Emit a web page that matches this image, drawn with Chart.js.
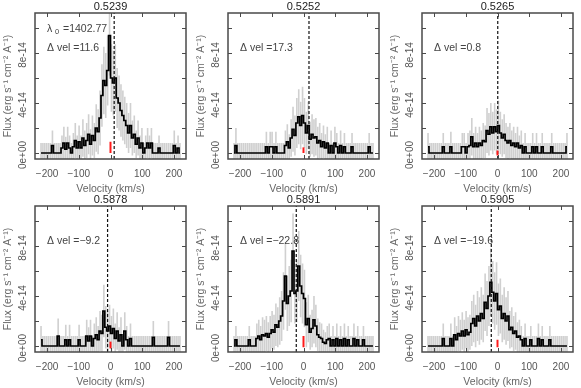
<!DOCTYPE html>
<html>
<head>
<meta charset="utf-8">
<script src="https://cdn.jsdelivr.net/npm/chart.js@4.4.1/dist/chart.umd.min.js"></script>
<style>
  html, body { margin: 0; padding: 0; background: #fff; }
  #wrap { position: relative; width: 581px; height: 388px; overflow: hidden; }
  .panel { position: absolute; width: 194px; height: 195px; }
</style>
</head>
<body>
<div id="wrap"></div>
<script>
// Line profiles, flux in units of 1e-14 erg/s/cm2/A, bins of 6 km/s centred from -219 to +219
const VEL = Array.from({ length: 74 }, (_, i) => -219 + 6 * i);

const TITLES = ['0.5239', '0.5252', '0.5265', '0.5878', '0.5891', '0.5905'];
const DVEL = [11.6, 17.3, 0.8, -9.2, -22.8, -19.6];
const RED_LO = [0.0, 0.0, -0.2, -0.2, -0.1, -0.1];
const RED_HI = [0.9, 0.45, 0.2, 0.35, 0.8, 0.5];

const X_TICKS = [-200, -100, 0, 100, 200];
const Y_TICKS = [0, 2, 4, 6, 8, 10];
const Y_LABEL_VALUES = [0, 4, 8];
const Y_LABELS = ['0e+00', '4e-14', '8e-14'];

const FLUX_1 = [
  0,0,0,0,0,0,0.6,0,0,0,
  0,0.4,0.8,0.3,0.8,0.4,0,0.5,1.0,0.4,
  0.9,0.4,1.2,0.6,1.0,1.5,0.7,1.4,1.0,2.0,
  1.7,2.8,4.6,5.8,5.4,6.6,9.4,6.0,5.6,6.0,
  4.4,4.0,3.4,3.0,2.6,2.2,1.6,2.2,1.2,1.5,
  0.7,1.2,0.4,0.8,0,0.4,0.8,0.4,0.8,0,
  0,0,0.4,0,0,0,0,0,0,0,
  0.6,0,0.4,0
];
const ERR_1 = [
  0.8,0.8,0.8,0.8,0.8,0.8,1.2,0.8,0.8,0.8,
  0.8,1.0,1.3,1.0,1.3,1.0,0.8,1.1,1.4,1.0,
  1.3,1.0,1.5,1.2,1.4,1.6,1.2,1.6,1.4,1.9,
  1.8,2.2,2.5,2.7,2.6,2.8,3.2,2.7,2.6,2.7,
  2.4,2.2,2.1,2.0,1.9,1.8,1.6,1.8,1.4,1.5,
  1.1,1.4,1.0,1.2,0.8,1.0,1.2,1.0,1.2,0.8,
  0.8,0.8,1.0,0.8,0.8,0.8,0.8,0.8,0.8,0.8,
  1.2,0.8,1.0,0.8
];

const FLUX_2 = [
  0,0.6,0,0,0,0,0,0,0,0,
  0,0,0,0,0,0,0,0.5,0,0.5,
  0.5,0,0.5,0,0,0,0,0.6,0.9,0.4,
  1.2,1.9,1.4,2.4,2.9,2.2,3.0,2.4,1.6,2.2,
  1.1,1.5,1.2,1.3,0.8,1.0,0.5,0.9,0.4,0.8,
  0,0.6,0,0.8,0.5,0,0.6,0,0.5,0,
  0,0,0.5,0,0,0,0,0,0,0,
  0,0.5,0,0
];
const ERR_2 = [
  0.8,1.4,0.8,0.8,0.8,0.8,0.8,0.8,0.8,0.8,
  0.8,0.8,0.8,0.8,0.8,0.8,0.8,1.2,0.8,1.2,
  1.2,0.8,1.2,0.8,0.8,0.8,0.8,1.2,1.4,1.1,
  1.5,1.8,1.6,2.0,2.2,1.9,2.3,2.0,1.7,1.9,
  1.4,1.6,1.5,1.5,1.3,1.4,1.1,1.3,1.1,1.3,
  0.8,1.2,0.8,1.3,1.1,0.8,1.2,0.8,1.1,0.8,
  0.8,0.8,1.1,0.8,0.8,0.8,0.8,0.8,0.8,0.8,
  0.8,1.1,0.8,0.8
];

const FLUX_3 = [
  0.5,0,0,0,0,0,0,0,0.5,0,
  0,0,0.5,0,0,0,0,0,0.5,0.5,
  0,0.5,0.6,1.3,0.5,0.8,0.5,0.8,0.6,1.0,
  0.9,1.8,1.5,2.1,1.6,2.1,1.7,2.2,1.6,1.2,
  1.5,1.0,0.8,1.0,0.6,0.8,0.5,0.8,0.4,0.6,
  0,0.5,0,0,0,0.5,0,0.5,0,0,
  0.5,0,0,0,0,0.5,0,0,0,0,
  0,0,0,0.5
];
const ERR_3 = [
  1.1,0.8,0.8,0.8,0.8,0.8,0.8,0.8,1.1,0.8,
  0.8,0.8,1.2,0.8,0.8,0.8,0.8,0.8,1.1,1.1,
  0.8,1.1,1.2,1.5,1.1,1.3,1.1,1.3,1.2,1.4,
  1.3,1.8,1.7,1.9,1.7,1.9,1.8,2.0,1.7,1.5,
  1.6,1.4,1.3,1.4,1.2,1.3,1.1,1.3,1.0,1.2,
  0.8,1.1,0.8,0.8,0.8,1.1,0.8,1.1,0.8,0.8,
  1.1,0.8,0.8,0.8,0.8,1.1,0.8,0.8,0.8,0.8,
  0.8,0.8,0.8,1.1
];

const FLUX_4 = [
  0.5,0,0,0,0,0,0,0,0,0.8,
  0,0,0,0.5,0,0.5,0,0,0,0,
  0.5,0,0,0,0.8,0.4,0.8,0,0.6,0.9,
  0.5,1.2,1.0,2.8,1.5,1.2,1.6,1.0,1.4,0.6,
  1.2,0.4,0.9,0,1.2,0.5,0,0.6,0,0,
  0,0,0,0,0,0,0,0,0,0.7,
  0,0,0,0,0,0,0,0.7,0,0,
  0,0,0,0
];
const ERR_4 = [
  1.1,0.8,0.8,0.8,0.8,0.8,0.8,0.8,0.8,1.4,
  0.8,0.8,0.8,1.2,0.8,1.2,0.8,0.8,0.8,0.8,
  1.2,0.8,0.8,0.8,1.3,1.1,1.3,0.8,1.2,1.4,
  1.1,1.6,1.5,2.1,1.7,1.6,1.7,1.4,1.6,1.2,
  1.5,1.1,1.4,0.8,1.5,1.1,0.8,1.2,0.8,0.8,
  0.8,0.8,0.8,0.8,0.8,0.8,0.8,0.8,0.8,1.3,
  0.8,0.8,0.8,0.8,0.8,0.8,0.8,1.3,0.8,0.8,
  0.8,0.8,0.8,0.8
];

const FLUX_5 = [
  0,0.5,0,0,0,0,0,0,0.5,0,
  0,0,0.6,0.8,0.5,0.9,0.8,1.0,0.7,1.0,
  1.3,1.1,1.7,1.5,2.0,2.4,3.6,5.6,3.4,4.0,
  4.4,7.6,4.2,4.4,6.4,4.8,4.2,3.8,1.7,2.2,
  1.1,1.4,2.1,1.6,0.9,0.7,0.6,0.3,0.2,0.5,
  0.6,0,0.5,0,0.6,0,0.5,0,0.6,0,
  0.5,0,0,0.6,0,0.5,0,0,0.5,0,
  0,0,0,0
];
const ERR_5 = [
  0.8,1.1,0.8,0.8,0.8,0.8,0.8,0.8,1.1,0.8,
  0.8,0.8,1.2,1.3,1.1,1.4,1.3,1.4,1.2,1.4,
  1.5,1.4,1.7,1.6,1.9,2.0,2.3,2.7,2.2,2.4,
  2.5,3.0,2.4,2.5,2.8,2.5,2.4,2.3,1.8,1.9,
  1.4,1.5,1.9,1.7,1.3,1.2,1.2,1.0,0.9,1.1,
  1.2,0.8,1.1,0.8,1.2,0.8,1.1,0.8,1.2,0.8,
  1.1,0.8,0.8,1.2,0.8,1.1,0.8,0.8,1.1,0.8,
  0.8,0.8,0.8,0.8
];

const FLUX_6 = [
  0,0,0,0,0,0,0,0,0.6,0,
  0,0,0.6,0,0.9,0.5,1.0,0.8,1.2,0.8,
  1.3,0.9,1.1,1.8,2.2,1.6,2.4,2.0,2.6,2.2,
  3.5,3.0,4.0,5.1,4.3,3.6,4.2,2.9,3.2,2.2,
  2.6,2.0,2.4,1.3,1.5,1.0,1.2,0.7,0.8,0.5,
  0,0.6,0,0,0.5,0,0,0,0.6,0,
  0.5,0,0,0,0.5,0,0,0,0,0,
  0,0,0,0
];
const ERR_6 = [
  0.8,0.8,0.8,0.8,0.8,0.8,0.8,0.8,1.2,0.8,
  0.8,0.8,1.2,0.8,1.4,1.1,1.4,1.3,1.5,1.3,
  1.5,1.4,1.4,1.8,1.9,1.7,2.0,1.9,2.1,1.9,
  2.3,2.2,2.4,2.7,2.5,2.3,2.5,2.1,2.2,1.9,
  2.1,1.9,2.0,1.5,1.6,1.4,1.5,1.2,1.3,1.1,
  0.8,1.2,0.8,0.8,1.1,0.8,0.8,0.8,1.2,0.8,
  1.1,0.8,0.8,0.8,1.1,0.8,0.8,0.8,0.8,0.8,
  0.8,0.8,0.8,0.8
];

const FLUXES = [FLUX_1, FLUX_2, FLUX_3, FLUX_4, FLUX_5, FLUX_6];
const ERRORS = [ERR_1, ERR_2, ERR_3, ERR_4, ERR_5, ERR_6];

const X_MIN = -238, X_MAX = 238;
const Y_MIN = -0.48, Y_MAX = 11.2;
const FONT = '"Liberation Sans", Arial, sans-serif';

function minus(v) { return String(v).replace('-', '\u2212'); }

// frame, inward ticks, labels and text drawn on top of the datasets
const panelDecor = {
  id: 'panelDecor',
  afterDraw(chart, args, opts) {
    const { ctx, chartArea: a } = chart;
    const x = chart.scales.x, y = chart.scales.y;
    ctx.save();

    ctx.strokeStyle = '#4a4a4a';
    ctx.lineWidth = 1;
    ctx.beginPath();
    X_TICKS.forEach(v => {
      const px = Math.round(x.getPixelForValue(v)) + 0.5;
      ctx.moveTo(px, a.bottom); ctx.lineTo(px, a.bottom - 4);
      ctx.moveTo(px, a.top); ctx.lineTo(px, a.top + 4);
    });
    Y_TICKS.forEach(v => {
      const py = Math.round(y.getPixelForValue(v)) + 0.5;
      ctx.moveTo(a.left, py); ctx.lineTo(a.left + 4, py);
      ctx.moveTo(a.right, py); ctx.lineTo(a.right - 4, py);
    });
    ctx.stroke();

    ctx.lineWidth = 1.5;
    ctx.strokeRect(a.left, a.top, a.right - a.left, a.bottom - a.top);

    // tick labels
    ctx.fillStyle = '#555';
    ctx.font = '10px ' + FONT;
    ctx.textAlign = 'center';
    ctx.textBaseline = 'middle';
    X_TICKS.forEach(v => ctx.fillText(minus(v), x.getPixelForValue(v), a.bottom + 15));
    Y_LABEL_VALUES.forEach((v, i) => {
      ctx.save();
      ctx.translate(a.left - 12, y.getPixelForValue(v) + 2);
      ctx.rotate(-Math.PI / 2);
      ctx.fillText(Y_LABELS[i], 0, 0);
      ctx.restore();
    });

    // axis titles
    ctx.fillStyle = '#666';
    ctx.font = '10.5px ' + FONT;
    ctx.fillText('Velocity (km/s)', (a.left + a.right) / 2, a.bottom + 30);
    ctx.save();
    ctx.translate(8, (a.top + a.bottom) / 2);
    ctx.rotate(-Math.PI / 2);
    ctx.fillText('Flux (erg s\u207B\u00B9 cm\u207B\u00B2 A\u207B\u00B9)', 0, 0);
    ctx.restore();

    // panel title
    ctx.fillStyle = '#222';
    ctx.font = '11px ' + FONT;
    ctx.fillText(opts.title, (a.left + a.right) / 2, a.top - 6);

    // annotations
    ctx.fillStyle = '#444';
    ctx.font = '10.5px ' + FONT;
    ctx.textAlign = 'left';
    const tx = a.left + 12;
    if (opts.lambda) {
      const ly = y.getPixelForValue(9.9);
      ctx.fillText('\u03BB', tx, ly);
      ctx.font = '7.5px ' + FONT;
      ctx.fillText('0', tx + 8, ly + 3);
      ctx.font = '10.5px ' + FONT;
      ctx.fillText('=' + opts.lambda, tx + 16, ly);
    }
    ctx.fillText('\u0394 vel =' + minus(opts.dvel), tx, y.getPixelForValue(8.4));
    ctx.restore();
  }
};

const wrap = document.getElementById('wrap');
const COL_LEFT = [0, 193, 387];
const ROW_TOP = [0, 193];

FLUXES.forEach((flux, p) => {
  const err = ERRORS[p];
  const div = document.createElement('div');
  div.className = 'panel';
  div.style.left = COL_LEFT[p % 3] + 'px';
  div.style.top = ROW_TOP[Math.floor(p / 3)] + 'px';
  const canvas = document.createElement('canvas');
  canvas.width = 194;
  canvas.height = 195;
  div.appendChild(canvas);
  wrap.appendChild(div);

  const hist = VEL.map((v, i) => ({ x: v, y: flux[i] }));
  const bars = VEL.map((v, i) => ({ x: v, y: [flux[i] - err[i], flux[i] + err[i]] }));
  const dashed = [{ x: DVEL[p], y: Y_MIN }, { x: DVEL[p], y: Y_MAX }];
  const red = [{ x: 0, y: RED_LO[p] }, { x: 0, y: RED_HI[p] }];

  new Chart(canvas, {
    type: 'bar',
    data: {
      datasets: [
        { type: 'line', data: red, borderColor: '#ff1a1a', borderWidth: 2, pointRadius: 0, order: 0 },
        { type: 'line', data: dashed, borderColor: '#111', borderWidth: 1.2, borderDash: [3, 2], pointRadius: 0, order: 1 },
        { type: 'line', data: hist, stepped: 'middle', borderColor: '#000', borderWidth: 1.7, pointRadius: 0, order: 2 },
        { type: 'bar', data: bars, backgroundColor: '#d0d0d0', barPercentage: 0.85, categoryPercentage: 1, order: 3 }
      ]
    },
    options: {
      responsive: false,
      animation: false,
      devicePixelRatio: 1,
      layout: { padding: { top: 13, right: 8, left: 0, bottom: 0 } },
      plugins: {
        legend: { display: false },
        tooltip: { enabled: false },
        panelDecor: { title: TITLES[p], dvel: DVEL[p], lambda: p === 0 ? '1402.77' : null }
      },
      scales: {
        x: {
          type: 'linear', min: X_MIN, max: X_MAX, offset: false,
          grid: { display: false }, border: { display: false }, ticks: { display: false },
          afterFit: s => { s.height = 36; }
        },
        y: {
          type: 'linear', min: Y_MIN, max: Y_MAX,
          grid: { display: false }, border: { display: false }, ticks: { display: false },
          afterFit: s => { s.width = 35; }
        }
      }
    },
    plugins: [panelDecor]
  });
});
</script>
</body>
</html>
